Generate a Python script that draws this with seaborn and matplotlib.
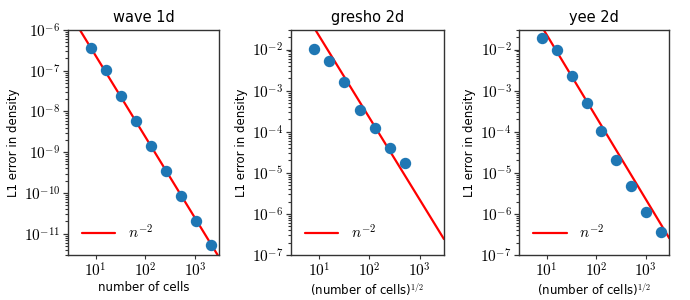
import numpy as np
import pandas as pd
import matplotlib
matplotlib.use("Agg")
import matplotlib.pyplot as plt
import seaborn as sns
from matplotlib.ticker import LogLocator, NullLocator, FuncFormatter

# data
cells = [8, 16, 32, 64, 128, 256, 512, 1024, 2048]
wave_err = [3.7e-7, 1.05e-7, 2.4e-8, 5.7e-9, 1.4e-9, 3.4e-10, 8.5e-11, 2.1e-11, 5.4e-12]
gresho_cells = [8, 16, 32, 64, 128, 256, 512]
gresho_err = [1.05e-2, 5.2e-3, 1.65e-3, 3.3e-4, 1.25e-4, 4.1e-5, 1.7e-5]
yee_err = [1.9e-2, 1.0e-2, 2.3e-3, 4.9e-4, 1.05e-4, 2.05e-5, 4.7e-6, 1.1e-6, 3.6e-7]
ref_coef = [2.35e-5, 2.2, 2.3]
titles = ["wave 1d", "gresho 2d", "yee 2d"]
xlabels = ["number of cells", r"(number of cells)$^{1/2}$", r"(number of cells)$^{1/2}$"]
ylims = [(3e-12, 1e-6), (1e-7, 3e-2), (1e-7, 3e-2)]
xlim = (2.8, 3000)

sns.set_theme(style="ticks")
plt.rcParams["font.family"] = ["DejaVu Sans"]
plt.rcParams["mathtext.fontset"] = "cm"
plt.rcParams["axes.edgecolor"] = "#333333"
plt.rcParams["text.color"] = "black"
plt.rcParams["axes.labelcolor"] = "black"
plt.rcParams["xtick.labelcolor"] = "black"
plt.rcParams["ytick.labelcolor"] = "black"


def pow_fmt(v, pos):
    e = int(np.round(np.log10(v)))
    return r"$10^{%d}$" % e


fig = plt.figure(figsize=(6.9, 3.0), dpi=100)
boxes = [[0.0986, 0.15, 0.219, 0.75], [0.4217, 0.15, 0.2217, 0.75], [0.7526, 0.15, 0.2174, 0.75]]
datasets = [(cells, wave_err), (gresho_cells, gresho_err), (cells, yee_err)]

for i in range(3):
    ax = fig.add_axes(boxes[i])
    xs, ys = datasets[i]
    xline = np.array(xlim)
    ref = pd.DataFrame({"x": xline, "y": ref_coef[i] * xline ** -2.0})
    sns.lineplot(data=ref, x="x", y="y", ax=ax, color="red", lw=1.6, label=r"$n^{-2}$")
    df = pd.DataFrame({"x": xs, "y": ys})
    ax.plot(df["x"], df["y"], "o", color="#1f77b4", ms=7.2, zorder=3)
    ax.set_xscale("log")
    ax.set_yscale("log")
    ax.set_xlim(*xlim)
    ax.set_ylim(*ylims[i])
    ax.yaxis.set_major_locator(LogLocator(base=10, numticks=20))
    ax.yaxis.set_minor_locator(LogLocator(base=10, subs=np.arange(2, 10), numticks=100))
    ax.xaxis.set_minor_locator(NullLocator())
    ax.xaxis.set_major_formatter(FuncFormatter(pow_fmt))
    ax.yaxis.set_major_formatter(FuncFormatter(pow_fmt))
    ax.set_title(titles[i], fontsize=10.5, pad=6)
    ax.set_xlabel(xlabels[i], fontsize=8.5, labelpad=1)
    ax.set_ylabel("L1 error in density", fontsize=8.5, labelpad=3)
    ax.tick_params(axis="x", which="major", length=3, width=0.8, labelsize=11, pad=2, color="#333333")
    ax.tick_params(axis="y", which="major", length=3.5, width=0.9, labelsize=11, pad=2, color="#333333")
    ax.tick_params(axis="y", which="minor", left=True, length=2.5, width=0.8, color="#333333")
    for s in ax.spines.values():
        s.set_linewidth(1.0)
    ax.legend(loc="lower left", frameon=False, fontsize=11, handlelength=2.2)

fig.savefig("out.png", dpi=100)
